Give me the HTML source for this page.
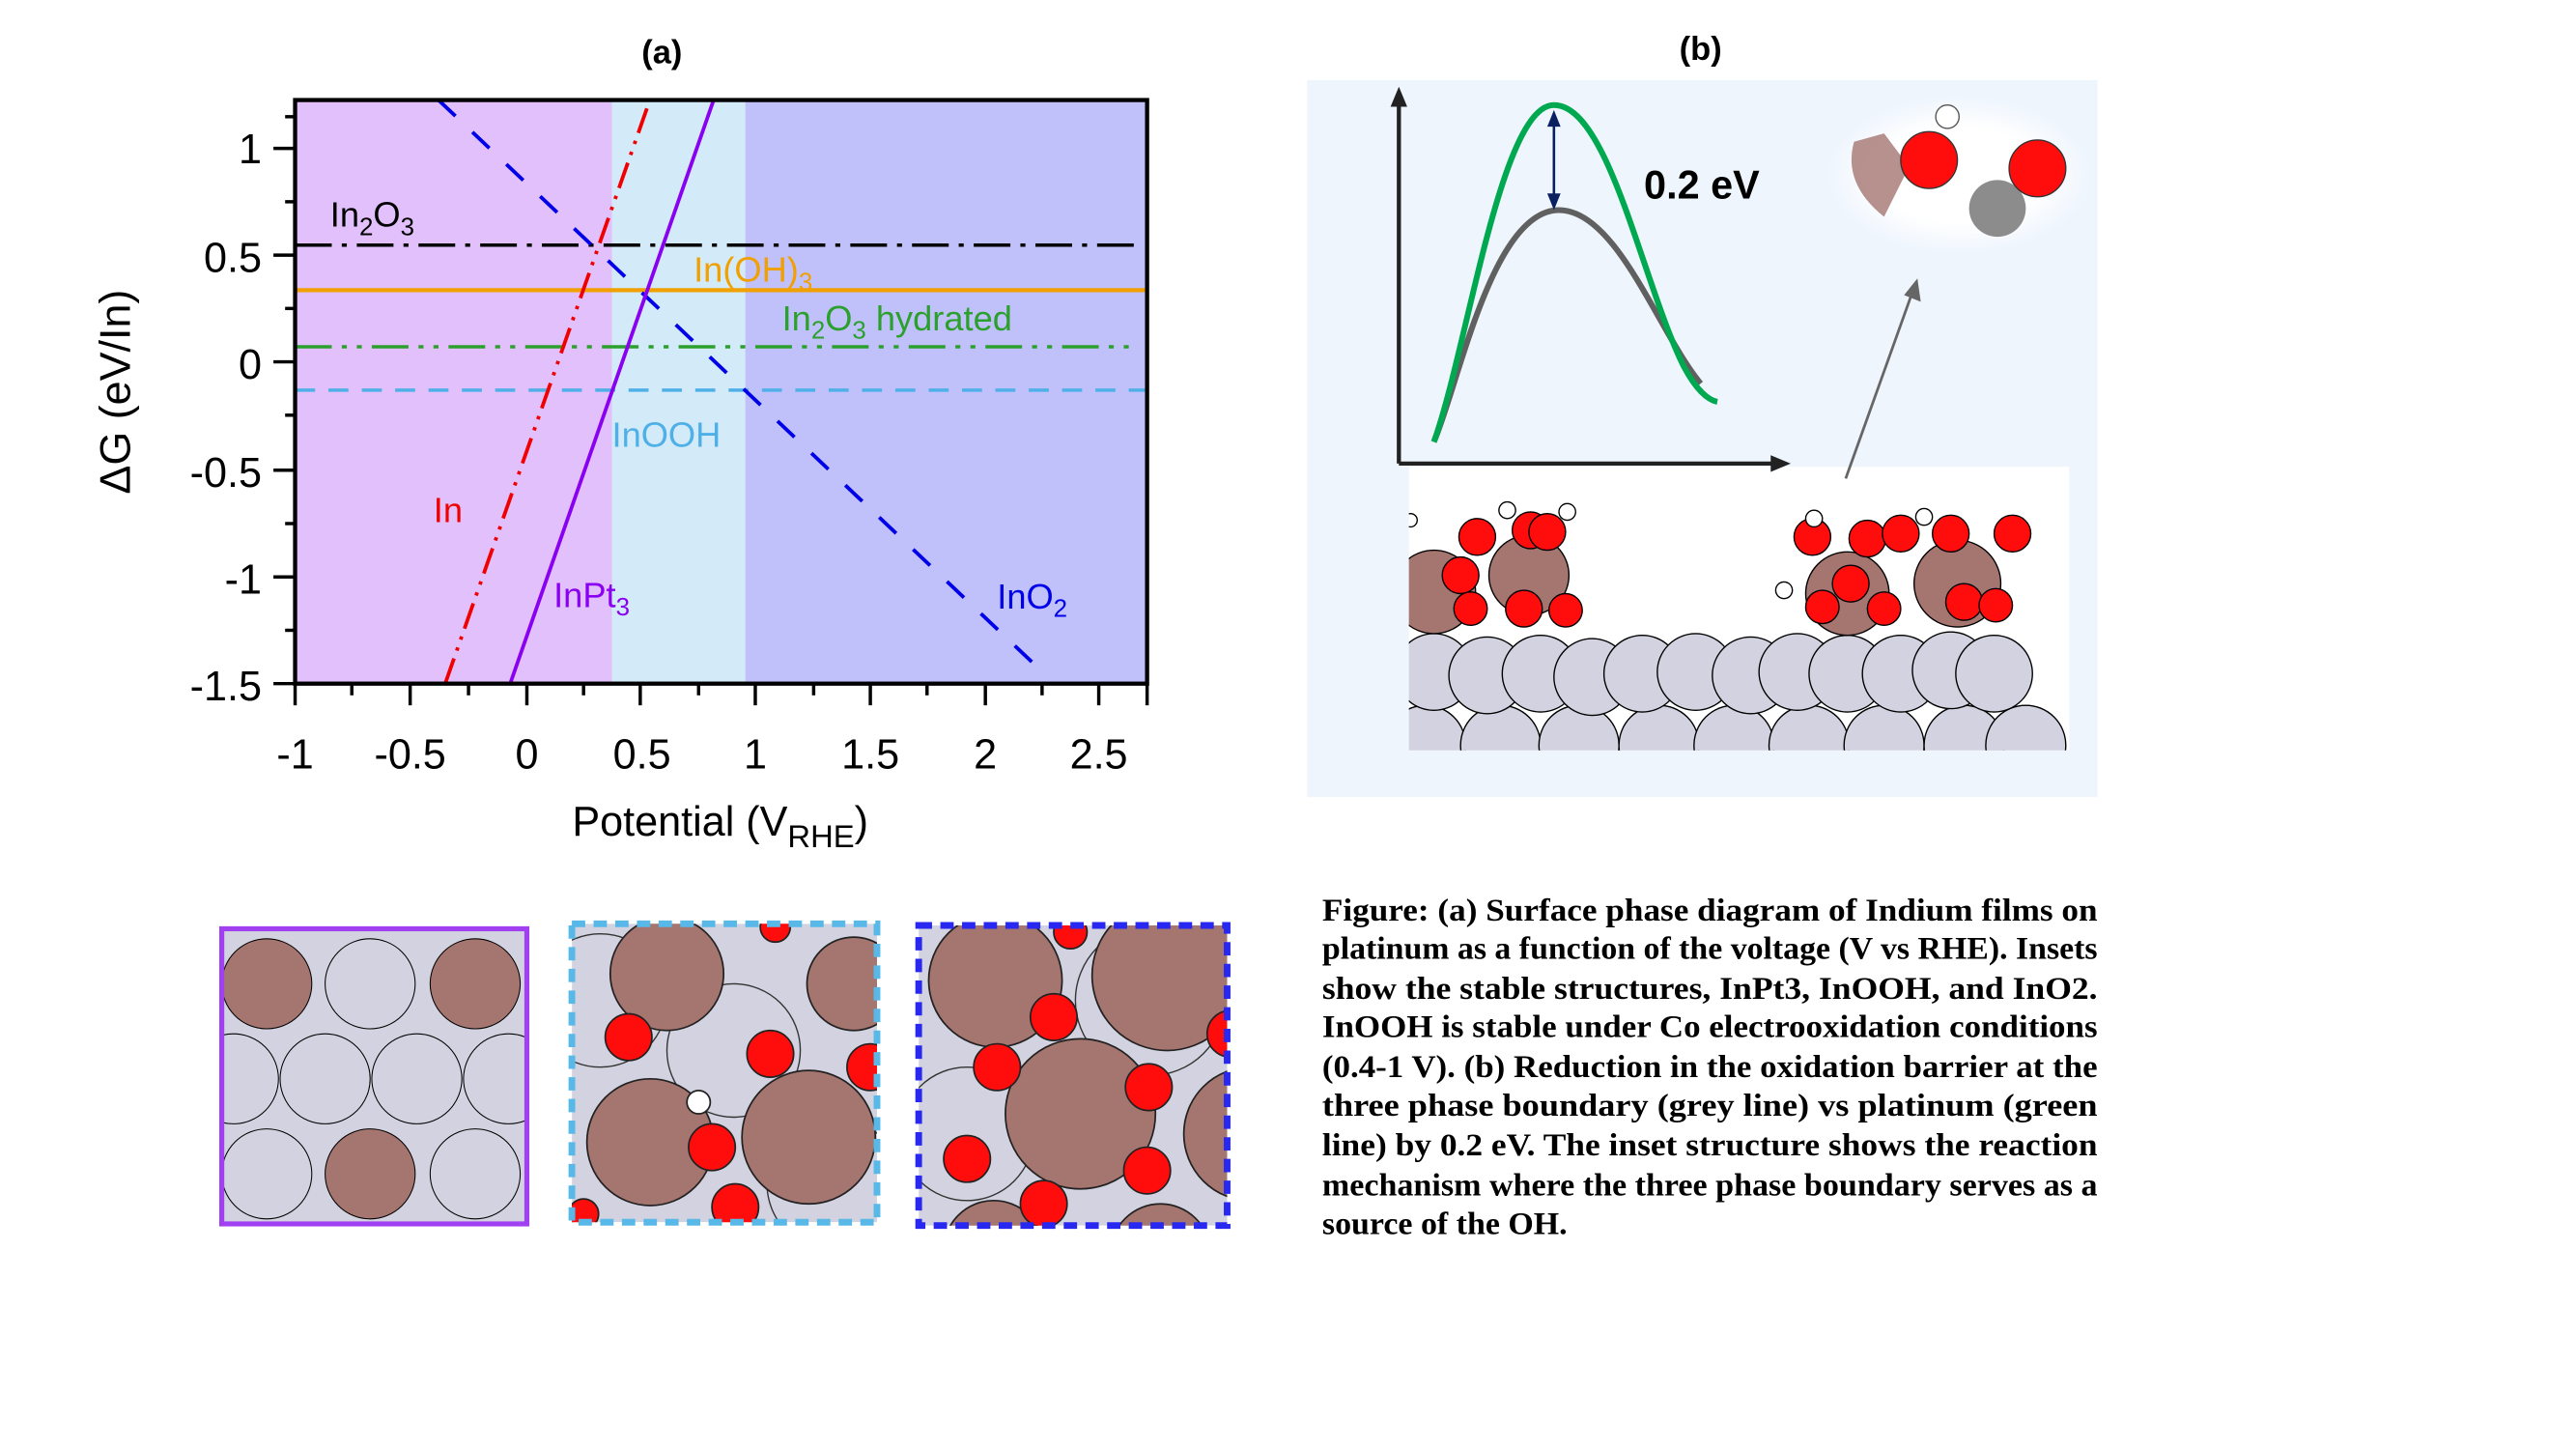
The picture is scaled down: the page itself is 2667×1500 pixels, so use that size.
<!DOCTYPE html>
<html><head><meta charset="utf-8"><style>html,body{margin:0;padding:0;background:#fff}svg{display:block}</style></head>
<body>
<svg width="2667" height="1500" viewBox="0 0 1545 869" preserveAspectRatio="none" xmlns="http://www.w3.org/2000/svg">
<defs>
<clipPath id="pc"><rect x="177" y="60" width="511" height="350"/></clipPath>
<clipPath id="i1"><rect x="133" y="557" width="183" height="177"/></clipPath>
<clipPath id="i2"><rect x="343" y="554" width="183" height="179"/></clipPath>
<clipPath id="i3"><rect x="551" y="555" width="185" height="180"/></clipPath>
<clipPath id="wb"><rect x="845" y="280" width="396" height="170"/></clipPath>
<radialGradient id="glow" cx="0.5" cy="0.5" r="0.5"><stop offset="0.6" stop-color="#fff"/><stop offset="1" stop-color="#eef5fd"/></radialGradient>
</defs>
<rect width="1545" height="869" fill="#fff"/>
<text x="397" y="38" font-family="Liberation Sans, sans-serif" font-weight="bold" font-size="20" text-anchor="middle">(a)</text>
<rect x="177" y="60" width="190" height="350" fill="#e2c0fb"/>
<rect x="367" y="60" width="80" height="350" fill="#d3eaf8"/>
<rect x="447" y="60" width="241" height="350" fill="#c0c0fb"/>
<g clip-path="url(#pc)" fill="none">
<line x1="177" y1="147" x2="682" y2="147" stroke="#000" stroke-width="2" stroke-dasharray="22,6,3,6"/>
<line x1="177" y1="174" x2="688" y2="174" stroke="#f0a000" stroke-width="2.5"/>
<line x1="177" y1="208" x2="682" y2="208" stroke="#2ca02c" stroke-width="2" stroke-dasharray="22,6,3,6,3,6"/>
<line x1="177" y1="234" x2="688" y2="234" stroke="#4fb0e8" stroke-width="2" stroke-dasharray="12,8"/>
<line x1="263" y1="60" x2="620" y2="398" stroke="#0000e8" stroke-width="2.2" stroke-dasharray="14,14"/>
<line x1="267" y1="410" x2="388" y2="65" stroke="#f00000" stroke-width="2.2" stroke-dasharray="16,5,2,5,2,5"/>
<line x1="306" y1="410" x2="428" y2="60" stroke="#8a00f0" stroke-width="2.2"/>
</g>
<rect x="177" y="60" width="511" height="350" fill="none" stroke="#000" stroke-width="2.5"/>
<g stroke="#000" stroke-width="2">
<line x1="177" y1="410" x2="177" y2="423"/><line x1="246" y1="410" x2="246" y2="423"/><line x1="316" y1="410" x2="316" y2="423"/><line x1="384" y1="410" x2="384" y2="423"/><line x1="453" y1="410" x2="453" y2="423"/><line x1="522" y1="410" x2="522" y2="423"/><line x1="591" y1="410" x2="591" y2="423"/><line x1="659" y1="410" x2="659" y2="423"/><line x1="688" y1="410" x2="688" y2="423"/>
<line x1="211" y1="410" x2="211" y2="417"/><line x1="281" y1="410" x2="281" y2="417"/><line x1="350" y1="410" x2="350" y2="417"/><line x1="419" y1="410" x2="419" y2="417"/><line x1="488" y1="410" x2="488" y2="417"/><line x1="556" y1="410" x2="556" y2="417"/><line x1="625" y1="410" x2="625" y2="417"/>
<line x1="164" y1="89" x2="177" y2="89"/><line x1="164" y1="153" x2="177" y2="153"/><line x1="164" y1="217" x2="177" y2="217"/><line x1="164" y1="282" x2="177" y2="282"/><line x1="164" y1="346" x2="177" y2="346"/><line x1="164" y1="410" x2="177" y2="410"/>
<line x1="171" y1="121" x2="177" y2="121"/><line x1="171" y1="185" x2="177" y2="185"/><line x1="171" y1="249" x2="177" y2="249"/><line x1="171" y1="314" x2="177" y2="314"/><line x1="171" y1="378" x2="177" y2="378"/><line x1="171" y1="70" x2="177" y2="70"/>
</g>
<g font-family="Liberation Sans, sans-serif" font-size="25" fill="#000">
<g text-anchor="end"><text x="157" y="98">1</text><text x="157" y="163">0.5</text><text x="157" y="227">0</text><text x="157" y="292">-0.5</text><text x="157" y="356">-1</text><text x="157" y="420">-1.5</text></g>
<g text-anchor="middle"><text x="177" y="461">-1</text><text x="246" y="461">-0.5</text><text x="316" y="461">0</text><text x="385" y="461">0.5</text><text x="453" y="461">1</text><text x="522" y="461">1.5</text><text x="591" y="461">2</text><text x="659" y="461">2.5</text></g>
<text x="432" y="501" text-anchor="middle">Potential (V<tspan font-size="19" dy="7">RHE</tspan><tspan dy="-7">)</tspan></text>
<text transform="translate(78,235) rotate(-90)" text-anchor="middle" font-size="26">ΔG (eV/In)</text>
</g>
<g font-family="Liberation Sans, sans-serif" font-size="21">
<text x="198" y="136" fill="#000">In<tspan font-size="15" dy="5">2</tspan><tspan dy="-5">O</tspan><tspan font-size="15" dy="5">3</tspan></text>
<text x="416" y="169" fill="#f0a000">In(OH)<tspan font-size="15" dy="5">3</tspan></text>
<text x="469" y="198" fill="#2ca02c">In<tspan font-size="15" dy="5">2</tspan><tspan dy="-5">O</tspan><tspan font-size="15" dy="5">3</tspan><tspan dy="-5"> hydrated</tspan></text>
<text x="367" y="268" fill="#4fb0e8">InOOH</text>
<text x="260" y="313" fill="#f00000">In</text>
<text x="332" y="364" fill="#8a00f0">InPt<tspan font-size="15" dy="5">3</tspan></text>
<text x="598" y="365" fill="#0000e8">InO<tspan font-size="15" dy="5">2</tspan></text>
</g>
<g clip-path="url(#i1)">
<rect x="133" y="557" width="183" height="177" fill="#d2d2e0"/>
<g fill="none" stroke="#000" stroke-width="0.6">
<circle cx="222" cy="590" r="27"/><circle cx="195" cy="647" r="27"/><circle cx="250" cy="647" r="27"/><circle cx="305" cy="647" r="27"/><circle cx="140" cy="647" r="27"/><circle cx="160" cy="704" r="27"/><circle cx="285" cy="704" r="27"/>
</g>
<circle cx="160" cy="590" r="27" fill="#a57570" stroke="#000" stroke-width="0.6"/>
<circle cx="285" cy="590" r="27" fill="#a57570" stroke="#000" stroke-width="0.6"/>
<circle cx="222" cy="704" r="27" fill="#a57570" stroke="#000" stroke-width="0.6"/>
</g>
<rect x="133" y="557" width="183" height="177" fill="none" stroke="#a040f0" stroke-width="3"/>
<g clip-path="url(#i2)">
<rect x="343" y="554" width="183" height="179" fill="#d2d2e0"/>
<g fill="none" stroke="#333" stroke-width="0.8"><circle cx="440" cy="630" r="40"/><circle cx="360" cy="600" r="40"/><circle cx="500" cy="710" r="40"/></g>
<g fill="#a57570" stroke="#222" stroke-width="1"><circle cx="400" cy="584" r="34"/><circle cx="390" cy="685" r="38"/><circle cx="485" cy="682" r="40"/><circle cx="512" cy="590" r="28"/></g>
<g fill="#ff0d0d" stroke="#222" stroke-width="1"><circle cx="377" cy="622" r="14"/><circle cx="462" cy="632" r="14"/><circle cx="427" cy="688" r="14"/><circle cx="441" cy="724" r="14"/><circle cx="522" cy="640" r="14"/><circle cx="465" cy="556" r="9"/><circle cx="350" cy="728" r="9"/></g>
<circle cx="419" cy="661" r="7" fill="#fff" stroke="#222"/>
</g>
<rect x="343" y="554" width="183" height="179" fill="none" stroke="#58b8e8" stroke-width="4" stroke-dasharray="8,5"/>
<g clip-path="url(#i3)">
<rect x="551" y="555" width="185" height="180" fill="#d2d2e0"/>
<g fill="none" stroke="#333" stroke-width="0.8"><circle cx="690" cy="600" r="45"/><circle cx="580" cy="680" r="40"/></g>
<g fill="#a57570" stroke="#222" stroke-width="1"><circle cx="597" cy="588" r="40"/><circle cx="648" cy="668" r="45"/><circle cx="700" cy="585" r="45"/><circle cx="750" cy="680" r="40"/><circle cx="596" cy="750" r="30"/><circle cx="696" cy="752" r="30"/></g>
<g fill="#ff0d0d" stroke="#222" stroke-width="1"><circle cx="632" cy="610" r="14"/><circle cx="598" cy="640" r="14"/><circle cx="689" cy="652" r="14"/><circle cx="580" cy="695" r="14"/><circle cx="688" cy="702" r="14"/><circle cx="626" cy="722" r="14"/><circle cx="642" cy="559" r="10"/><circle cx="738" cy="620" r="14"/></g>
</g>
<rect x="551" y="555" width="185" height="180" fill="none" stroke="#2828f0" stroke-width="4" stroke-dasharray="8,5"/>
<text x="1020" y="36" font-family="Liberation Sans, sans-serif" font-weight="bold" font-size="20" text-anchor="middle">(b)</text>
<rect x="784" y="48" width="474" height="430" fill="#eef5fd"/>
<ellipse cx="1175" cy="105" rx="80" ry="48" fill="url(#glow)"/>
<path d="M1130 80 L1145 100 L1130 130 Q1105 110 1112 85 Z" fill="#a57570" opacity="0.8"/>
<circle cx="1198" cy="125" r="17" fill="#8c8c8c"/>
<circle cx="1157" cy="96" r="17" fill="#ff0d0d" stroke="#333" stroke-width="0.8"/>
<circle cx="1222" cy="101" r="17" fill="#ff0d0d" stroke="#333" stroke-width="0.8"/>
<circle cx="1168" cy="70" r="7" fill="#fff" stroke="#555" stroke-width="0.8"/>
<rect x="845" y="280" width="396" height="170" fill="#fff"/>
<g clip-path="url(#wb)" stroke="#000" stroke-width="0.8">
<g fill="#d2d2e0">
<circle cx="855" cy="447" r="24"/><circle cx="900" cy="447" r="24"/><circle cx="947" cy="447" r="24"/><circle cx="995" cy="447" r="24"/><circle cx="1040" cy="447" r="24"/><circle cx="1085" cy="447" r="24"/><circle cx="1130" cy="447" r="24"/><circle cx="1178" cy="447" r="24"/><circle cx="1215" cy="447" r="24"/>
<circle cx="860" cy="403" r="23"/><circle cx="892" cy="405" r="23"/><circle cx="924" cy="404" r="23"/><circle cx="955" cy="406" r="23"/><circle cx="985" cy="404" r="23"/><circle cx="1017" cy="403" r="23"/><circle cx="1050" cy="405" r="23"/><circle cx="1078" cy="403" r="23"/><circle cx="1108" cy="404" r="23"/><circle cx="1140" cy="404" r="23"/><circle cx="1170" cy="402" r="23"/><circle cx="1196" cy="404" r="23"/>
</g>
<g fill="#a57570"><circle cx="860" cy="355" r="25"/><circle cx="917" cy="345" r="24"/><circle cx="1108" cy="356" r="25"/><circle cx="1174" cy="350" r="26"/></g>
<g fill="#ff0d0d"><circle cx="886" cy="322" r="11"/><circle cx="918" cy="318" r="11"/><circle cx="928" cy="319" r="11"/><circle cx="876" cy="345" r="11"/><circle cx="882" cy="365" r="10"/><circle cx="914" cy="365" r="11"/><circle cx="939" cy="366" r="10"/><circle cx="1087" cy="322" r="11"/><circle cx="1120" cy="323" r="11"/><circle cx="1140" cy="320" r="11"/><circle cx="1170" cy="320" r="11"/><circle cx="1207" cy="320" r="11"/><circle cx="1110" cy="350" r="11"/><circle cx="1130" cy="365" r="10"/><circle cx="1178" cy="361" r="11"/><circle cx="1197" cy="363" r="10"/><circle cx="1093" cy="364" r="10"/></g>
<g fill="#fff"><circle cx="904" cy="306" r="5"/><circle cx="940" cy="307" r="5"/><circle cx="846" cy="312" r="4"/><circle cx="1088" cy="311" r="5"/><circle cx="1154" cy="310" r="5"/><circle cx="1070" cy="354" r="5"/></g>
</g>
<line x1="1107" y1="287" x2="1146" y2="178" stroke="#666" stroke-width="1.6"/>
<path d="M1150 167 L1152 181 L1142 177 Z" fill="#666"/>
<line x1="839" y1="278" x2="839" y2="62" stroke="#222" stroke-width="2.5"/>
<path d="M839 52 L834 64 L844 64 Z" fill="#222"/>
<line x1="839" y1="278" x2="1064" y2="278" stroke="#222" stroke-width="2.5"/>
<path d="M1074 278 L1062 273 L1062 283 Z" fill="#222"/>
<path d="M860 265 C875 230 895 126 935 126 C970 126 995 200 1020 230" fill="none" stroke="#606060" stroke-width="3.5"/>
<path d="M860 265 C880 210 900 63 932 63 C965 63 985 170 1010 220 C1018 235 1025 240 1030 241" fill="none" stroke="#00a850" stroke-width="3.5"/>
<line x1="932" y1="74" x2="932" y2="117" stroke="#0a2060" stroke-width="1.5"/>
<path d="M932 66 L928 76 L936 76 Z M932 126 L928 116 L936 116 Z" fill="#0a2060"/>
<text x="986" y="119" font-family="Liberation Sans, sans-serif" font-weight="bold" font-size="24">0.2 eV</text>
<g font-family="Liberation Serif, serif" font-weight="bold" font-size="19" fill="#000">
<text x="793" y="552" textLength="465" lengthAdjust="spacingAndGlyphs">Figure: (a) Surface phase diagram of Indium films on</text>
<text x="793" y="575" textLength="465" lengthAdjust="spacingAndGlyphs">platinum as a function of the voltage (V vs RHE). Insets</text>
<text x="793" y="599" textLength="465" lengthAdjust="spacingAndGlyphs">show the stable structures, InPt3, InOOH, and InO2.</text>
<text x="793" y="622" textLength="465" lengthAdjust="spacingAndGlyphs">InOOH is stable under Co electrooxidation conditions</text>
<text x="793" y="646" textLength="465" lengthAdjust="spacingAndGlyphs">(0.4-1 V). (b)  Reduction in the oxidation barrier at the</text>
<text x="793" y="669" textLength="465" lengthAdjust="spacingAndGlyphs">three phase boundary (grey line) vs platinum (green</text>
<text x="793" y="693" textLength="465" lengthAdjust="spacingAndGlyphs">line) by 0.2 eV. The inset structure shows the reaction</text>
<text x="793" y="717" textLength="465" lengthAdjust="spacingAndGlyphs">mechanism where the three phase boundary serves as a</text>
<text x="793" y="740" textLength="147" lengthAdjust="spacingAndGlyphs">source of the OH.</text>
</g>
</svg>
</body></html>
